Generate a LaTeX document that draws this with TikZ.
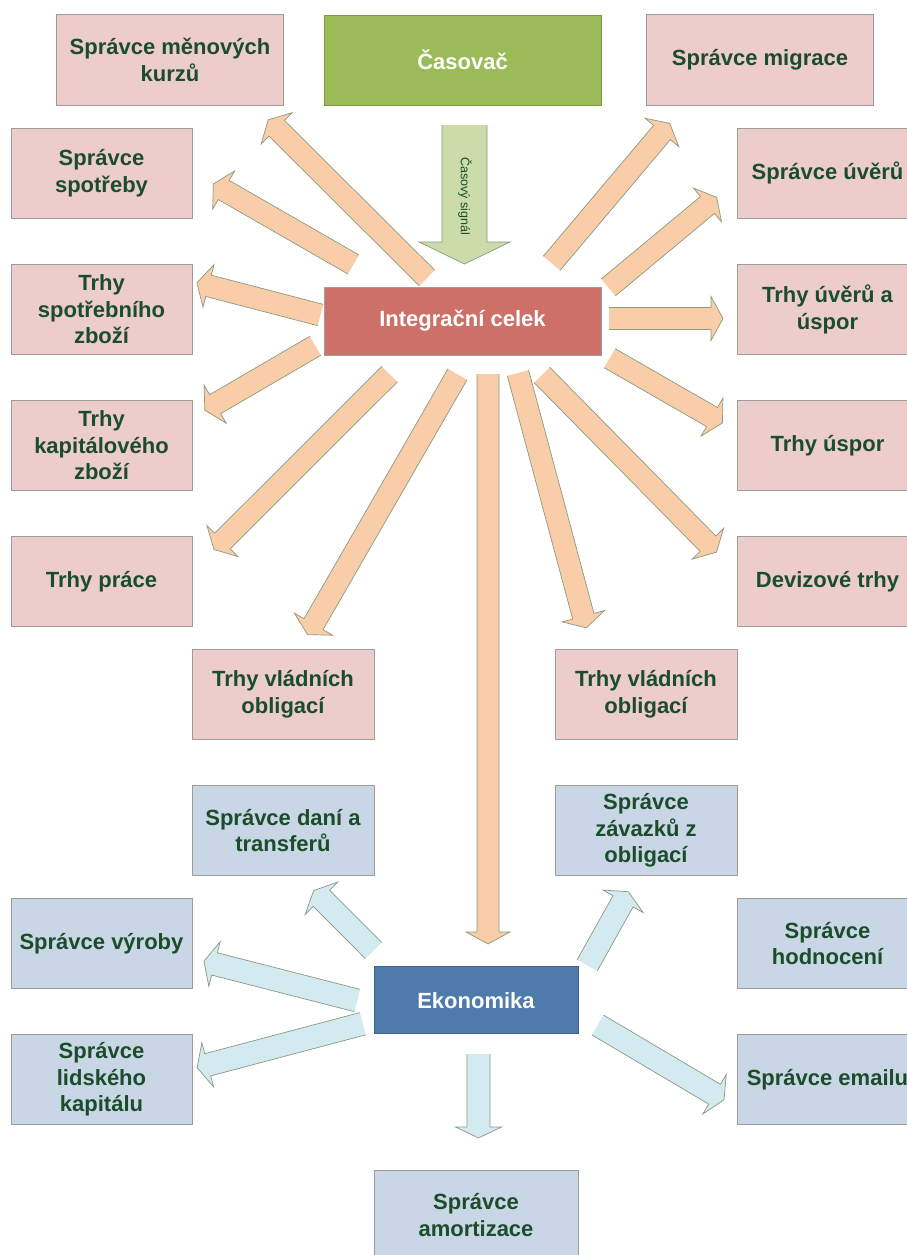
\documentclass[tikz,border=0pt]{standalone}
\usepackage{fontspec}
\setmainfont{Liberation Sans}
\usetikzlibrary{calc}

\definecolor{pinkfill}{HTML}{EDCDCC}
\definecolor{bluegrayfill}{HTML}{C9D6E5}
\definecolor{greenfill}{HTML}{9BBB59}
\definecolor{greenline}{HTML}{7A9A46}
\definecolor{redfill}{HTML}{CC7068}
\definecolor{bluefill}{HTML}{4F7BAC}
\definecolor{blueline}{HTML}{3F6288}
\definecolor{boxline}{HTML}{A09C98}
\definecolor{textgreen}{HTML}{1B4D2B}
\definecolor{orangefill}{HTML}{F9CDA8}
\definecolor{lightbluefill}{HTML}{D3EAF0}
\definecolor{signalfill}{HTML}{CBDBA9}
\definecolor{arrowline}{HTML}{8A9A82}

% Block arrow: #1 fill colour, #2 tail, #3 tip, #4 half shaft, #5 half head, #6 head length
% The tail edge is filled but not outlined.
\newcommand\blockarrow[6]{%
  \path ($(#3)!#6!(#2)$) coordinate (ba-m)
    ($(#2)!#4!90:(#3)$) coordinate (ba-tl) ($(#2)!#4!-90:(#3)$) coordinate (ba-tr)
    ($(ba-m)!#4!90:(#3)$) coordinate (ba-sl) ($(ba-m)!#4!-90:(#3)$) coordinate (ba-sr)
    ($(ba-m)!#5!90:(#3)$) coordinate (ba-hl) ($(ba-m)!#5!-90:(#3)$) coordinate (ba-hr);
  \fill[#1] (ba-tl) -- (ba-sl) -- (ba-hl) -- (#3) -- (ba-hr) -- (ba-sr) -- (ba-tr) -- cycle;
  \draw[arrowedge] (ba-tl) -- (ba-sl) -- (ba-hl) -- (#3) -- (ba-hr) -- (ba-sr) -- (ba-tr);
}
\newcommand\orangearrow[2]{\blockarrow{orangefill}{#1}{#2}{11pt}{22pt}{12pt}}
\newcommand\bluearrow[2]{\blockarrow{lightbluefill}{#1}{#2}{11.5pt}{23pt}{11pt}}

\begin{document}
\begin{tikzpicture}[x=1pt,y=-1pt,
  box/.style={rectangle, line width=0.7pt, align=center, inner sep=2pt,
    font=\fontsize{22}{26.5}\selectfont\bfseries, text=textgreen},
  pinkbox/.style={box, draw=boxline, fill=pinkfill, minimum width=181pt, minimum height=90.6pt},
  bluebox/.style={box, draw=boxline, fill=bluegrayfill, minimum width=181pt, minimum height=90.6pt},
  hubbox/.style={box, text=white, minimum width=277pt},
  arrowedge/.style={draw=arrowline, line width=0.7pt, line join=miter}]
\useasboundingbox (0,0) rectangle (907,1255);
\clip (0,0) rectangle (907,1255);

% top row
\node[pinkbox, minimum width=226.6pt] (kurzy) at (170,60) {Správce měnových\\kurzů};
\node[hubbox, draw=greenline, fill=greenfill, minimum height=90pt] (casovac) at (462.5,60) {Časovač};
\node[pinkbox, minimum width=226.6pt] (migrace) at (760,60) {Správce migrace};

% integration unit
\node[hubbox, draw=boxline, fill=redfill, minimum height=68pt] (ic) at (462.5,321) {Integrační celek};

% markets and managers on the sides
\node[pinkbox] (spotreba) at (101.5,173.3) {Správce\\spotřeby};
\node[pinkbox] (uvery) at (827.5,173.3) {Správce úvěrů};
\node[pinkbox] (spotrebni) at (101.5,309.3) {Trhy\\spotřebního\\zboží};
\node[pinkbox] (uveryuspory) at (827.5,309.3) {Trhy úvěrů a\\úspor};
\node[pinkbox] (kapital) at (101.5,445.3) {Trhy\\kapitálového\\zboží};
\node[pinkbox] (uspory) at (827.5,445.3) {Trhy úspor};
\node[pinkbox] (prace) at (101.5,581.3) {Trhy práce};
\node[pinkbox] (devizy) at (827.5,581.3) {Devizové trhy};
\node[pinkbox, minimum width=182pt] (oblL) at (283,694.3) {Trhy vládních\\obligací};
\node[pinkbox, minimum width=182pt] (oblR) at (646,694.3) {Trhy vládních\\obligací};

% economy and its managers
\node[bluebox, minimum width=182pt] (dane) at (283,830.3) {Správce daní a\\transferů};
\node[bluebox, minimum width=182pt] (zavazky) at (646,830.3) {Správce\\závazků z\\obligací};
\node[bluebox] (vyroba) at (101.5,943.5) {Správce výroby};
\node[bluebox] (hodnoceni) at (827.5,943.5) {Správce\\hodnocení};
\node[box, text=white, draw=blueline, fill=bluefill, minimum width=204pt, minimum height=67pt] (ekonomika) at (476,1000.3) {Ekonomika};
\node[bluebox] (lidsky) at (101.5,1079.5) {Správce\\lidského\\kapitálu};
\node[bluebox] (email) at (827.5,1079.5) {Správce emailu};
\node[bluebox, minimum width=204pt, minimum height=90pt] (amortizace) at (476,1215) {Správce\\amortizace};

% arrow ends
\coordinate (ic-kurzy) at (427,278);         \coordinate (kurzy-in) at (268.2,119.8);
\coordinate (ic-spotreba) at (353.5,264.5);  \coordinate (spotreba-in) at (213.3,184);
\coordinate (ic-spotrebni) at (320.5,315);   \coordinate (spotrebni-in) at (196.9,282.8);
\coordinate (ic-kapital) at (315.3,345.8);   \coordinate (kapital-in) at (204.8,410.2);
\coordinate (ic-prace) at (389.5,374.2);     \coordinate (prace-in) at (214,549.5);
\coordinate (ic-oblL) at (457.5,374.3);      \coordinate (oblL-in) at (307.5,634.6);
\coordinate (ic-ekonomika) at (488,374);     \coordinate (ekonomika-in) at (488,944);
\coordinate (ic-oblR) at (518,373);          \coordinate (oblR-in) at (586.4,627.8);
\coordinate (ic-devizy) at (542,375);        \coordinate (devizy-in) at (716.4,552.2);
\coordinate (ic-uspory) at (609.7,358.2);    \coordinate (uspory-in) at (722.4,423);
\coordinate (ic-uveryuspory) at (609,318.5); \coordinate (uveryuspory-in) at (723,318.5);
\coordinate (ic-migrace) at (551.7,263.3);   \coordinate (migrace-in) at (669.7,123.3);
\coordinate (ic-uvery) at (608.3,287.5);     \coordinate (uvery-in) at (716.7,197.3);
\coordinate (casovac-out) at (464.5,125);    \coordinate (ic-in) at (464.5,264);
\coordinate (ek-dane) at (373.5,950.5);      \coordinate (dane-in) at (313.7,890.5);
\coordinate (ek-zavazky) at (587.2,965.3);   \coordinate (zavazky-in) at (628.4,891.7);
\coordinate (ek-vyroba) at (357.2,1000.5);   \coordinate (vyroba-in) at (203.9,961.2);
\coordinate (ek-lidsky) at (362.8,1023.7);   \coordinate (lidsky-in) at (197.1,1067.6);
\coordinate (ek-email) at (597.7,1025);      \coordinate (email-in) at (724,1099.8);
\coordinate (ek-amortizace) at (478.5,1054); \coordinate (amortizace-in) at (478.5,1138);

% time signal
\blockarrow{signalfill}{casovac-out}{ic-in}{22.5pt}{45.5pt}{22pt}
\node[rotate=-90, text=textgreen, font=\fontsize{12.5}{15}\selectfont, inner sep=0pt] (signal) at (465,196) {Časový signál};

% outputs of the integration unit
\orangearrow{ic-kurzy}{kurzy-in}
\orangearrow{ic-spotreba}{spotreba-in}
\orangearrow{ic-spotrebni}{spotrebni-in}
\orangearrow{ic-kapital}{kapital-in}
\orangearrow{ic-prace}{prace-in}
\orangearrow{ic-oblL}{oblL-in}
\orangearrow{ic-ekonomika}{ekonomika-in}
\orangearrow{ic-oblR}{oblR-in}
\orangearrow{ic-devizy}{devizy-in}
\orangearrow{ic-uspory}{uspory-in}
\orangearrow{ic-uveryuspory}{uveryuspory-in}
\orangearrow{ic-migrace}{migrace-in}
\orangearrow{ic-uvery}{uvery-in}

% outputs of the economy
\bluearrow{ek-dane}{dane-in}
\bluearrow{ek-zavazky}{zavazky-in}
\bluearrow{ek-vyroba}{vyroba-in}
\bluearrow{ek-lidsky}{lidsky-in}
\bluearrow{ek-email}{email-in}
\bluearrow{ek-amortizace}{amortizace-in}
\end{tikzpicture}
\end{document}
